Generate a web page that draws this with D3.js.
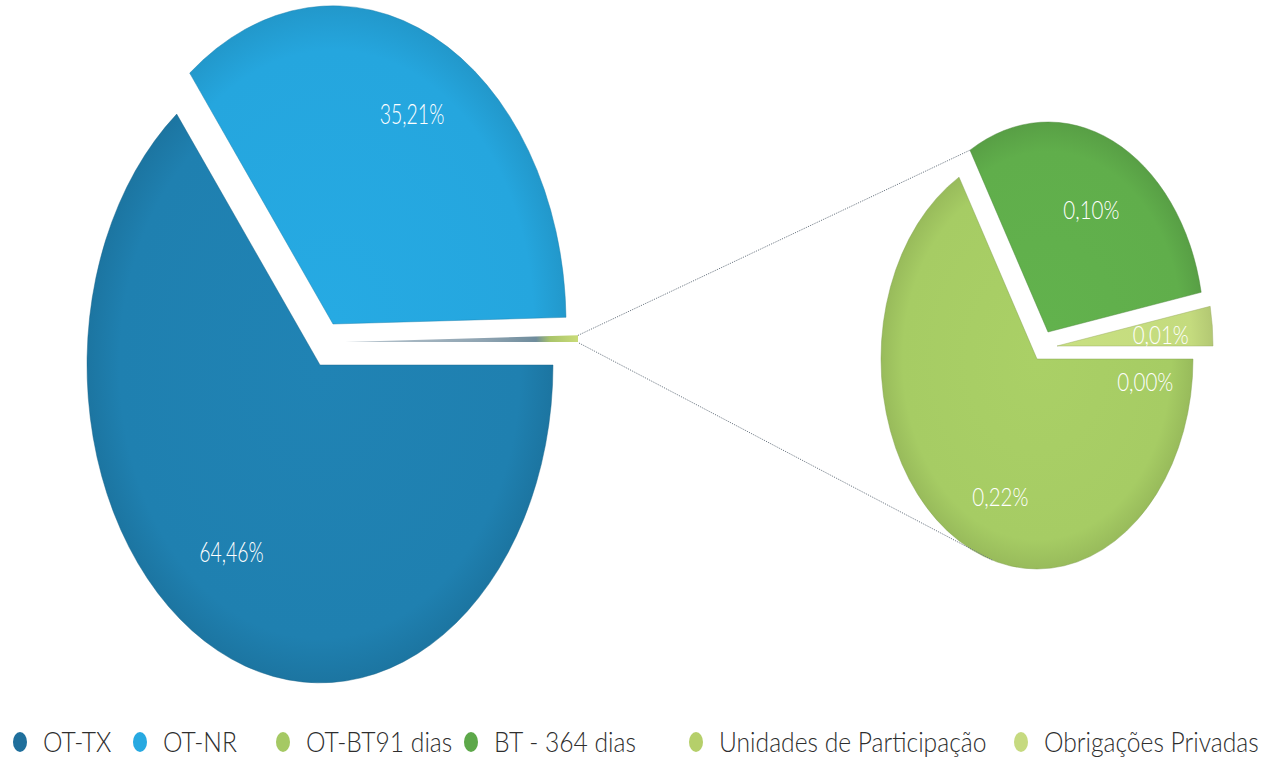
<!DOCTYPE html>
<html>
<head>
<meta charset="utf-8">
<script src="https://cdn.jsdelivr.net/npm/d3@7"></script>
<style>
  html, body { margin: 0; padding: 0; background: #ffffff; }
  svg { display: block; }
  text { font-family: Lato, "Open Sans", "DejaVu Sans", sans-serif; }
</style>
</head>
<body>
<svg id="chart" width="1273" height="769"></svg>
<script>
// ---------------- data ----------------
const categories = ["OT-TX", "OT-NR", "OT-BT91 dias", "BT - 364 dias", "Unidades de Participação", "Obrigações Privadas"];
const values     = [64.46, 35.21, 0.22, 0.10, 0.00, 0.01];
const valueLabels = ["64,46%", "35,21%", "0,22%", "0,10%", "0,00%", "0,01%"];
const colors     = ["#1f80b0", "#25a6de", "#a6cc64", "#60ae4b", "#b7d06c", "#c4db7e"];
const legendColors = ["#1f6f9c", "#27a9e1", "#a5c964", "#5da84a", "#b5cf6a", "#c6da80"];
const primaryIdx   = [0, 1];        // shown in the main pie
const secondaryIdx = [2, 3, 4, 5];  // aggregated into "other" and shown in the second pie

// ---------------- layout (not data) ----------------
const mainPie = { rx: 233, ry: 318 };
const subPie  = { rx: 156, ry: 210 };
// slice centres after explosion
const mainCentres = [[320, 365], [333, 324], [345, 342]];
const subCentres  = { 2: [1037, 359], 3: [1048, 332], 4: [1037, 359], 5: [1057, 346] };
const labelNudge  = { 0: [-17, -12], 1: [9, -8], 2: [18, 11], 3: [-2, 12], 4: [1, 51], 5: [-5, 3] };
const legendX = [20, 140, 283, 471, 696, 1021];
const legendY = 742;

const svg = d3.select("#chart");
const defs = svg.append("defs");

function addGradient(id, color) {
  const c = d3.color(color);
  const g = defs.append("radialGradient").attr("id", id)
    .attr("gradientUnits", "userSpaceOnUse").attr("cx", 0).attr("cy", 0).attr("r", 1);
  g.append("stop").attr("offset", "0%").attr("stop-color", c.brighter(0.06).formatHex());
  g.append("stop").attr("offset", "86%").attr("stop-color", c.formatHex());
  g.append("stop").attr("offset", "100%").attr("stop-color", c.darker(0.25).formatHex());
}
colors.forEach((c, i) => addGradient("g" + i, c));
// the aggregated "other" sliver: greyish along its length, green at its tip
const og = defs.append("linearGradient").attr("id", "gOther")
  .attr("gradientUnits", "userSpaceOnUse").attr("x1", 0).attr("y1", 0).attr("x2", 1).attr("y2", 0);
[["0%", "#b9c6cf"], ["60%", "#8ea3b1"], ["82%", "#6f8c9c"], ["88%", "#a9c46a"], ["100%", "#c9db78"]]
  .forEach(s => og.append("stop").attr("offset", s[0]).attr("stop-color", s[1]));

const unitArc = d3.arc().innerRadius(0).outerRadius(1);
const pieGen = d3.pie().sort(null).value(d => d.value)
  .startAngle(Math.PI / 2).endAngle(Math.PI / 2 + 2 * Math.PI);

// main pie data
const otherValue = d3.sum(secondaryIdx, i => values[i]);
const mainData = primaryIdx.map(i => ({ idx: i, value: values[i] }))
  .concat([{ idx: -1, value: otherValue }]);
const mainArcs = pieGen(mainData);

// secondary pie data
const subData = secondaryIdx.map(i => ({ idx: i, value: values[i] }));
const subArcs = pieGen(subData);

function pointOn(angle, rx, ry, k) {
  // d3 angle: 0 = 12 o'clock, clockwise
  return [Math.sin(angle) * rx * k, -Math.cos(angle) * ry * k];
}

// draw main pie
const mainG = svg.append("g");
mainArcs.forEach((a, k) => {
  const c = mainCentres[k];
  const isOther = a.data.idx < 0;
  const fillId = isOther ? "gOther" : "g" + a.data.idx;
  const p = mainG.append("path")
    .attr("transform", `translate(${c[0]},${c[1]}) scale(${mainPie.rx},${mainPie.ry})`)
    .attr("d", unitArc(a))
    .attr("fill", `url(#${fillId})`);
  if (!isOther) {
    p.attr("stroke", d3.color(colors[a.data.idx]).darker(0.7))
      .attr("stroke-opacity", 0.45)
      .attr("stroke-width", 1)
      .attr("vector-effect", "non-scaling-stroke");
  }
});

// draw secondary pie
const subG = svg.append("g");
subArcs.forEach(a => {
  if (a.data.value <= 0) return;
  const c = subCentres[a.data.idx];
  subG.append("path")
    .attr("transform", `translate(${c[0]},${c[1]}) scale(${subPie.rx},${subPie.ry})`)
    .attr("d", unitArc(a))
    .attr("fill", `url(#g${a.data.idx})`)
    .attr("stroke", d3.color(colors[a.data.idx]).darker(0.7))
    .attr("stroke-opacity", 0.45)
    .attr("stroke-width", 1)
    .attr("vector-effect", "non-scaling-stroke");
});

// connector lines (from the "other" slice to the second pie)
const otherArc = mainArcs[2];
const oc = mainCentres[2];
const pUp = pointOn(otherArc.startAngle, mainPie.rx, mainPie.ry, 1);
const pLo = pointOn(otherArc.endAngle, mainPie.rx, mainPie.ry, 1);
const startUp = [oc[0] + pUp[0], oc[1] + pUp[1]];
const startLo = [oc[0] + pLo[0] + 1, oc[1] + pLo[1] + 1];
// upper: to the outer tip of the BT-364 slice
const bt = subArcs[1];
const c3 = subCentres[3];
const topPt = pointOn(bt.startAngle, subPie.rx, subPie.ry, 1);
const endUp = [c3[0] + topPt[0], c3[1] + topPt[1]];
// lower: to the lower-left edge of the second pie
const c2 = subCentres[2];
const botPt = pointOn(Math.PI + 0.285, subPie.rx, subPie.ry, 1);
const endLo = [c2[0] + botPt[0], c2[1] + botPt[1]];
const conn = svg.append("g").attr("fill", "none").attr("stroke", "#6f7a85")
  .attr("stroke-width", 1).attr("stroke-dasharray", "1.2,1.2");
conn.append("line").attr("x1", startUp[0]).attr("y1", startUp[1]).attr("x2", endUp[0]).attr("y2", endUp[1]);
conn.append("line").attr("x1", startLo[0]).attr("y1", startLo[1]).attr("x2", endLo[0]).attr("y2", endLo[1]);

// value labels
const labG = svg.append("g").attr("fill", "#ffffff").attr("text-anchor", "middle")
  .attr("font-weight", 300);
function addLabel(a, centre, pie, size, sx) {
  const mid = (a.startAngle + a.endAngle) / 2;
  const p = pointOn(mid, pie.rx, pie.ry, 0.7);
  const n = labelNudge[a.data.idx];
  const x = centre[0] + p[0] + n[0], y = centre[1] + p[1] + n[1];
  labG.append("text")
    .attr("transform", `translate(${x},${y}) scale(${sx},1)`)
    .attr("dy", "0.35em")
    .attr("font-size", size)
    .text(valueLabels[a.data.idx]);
}
mainArcs.forEach((a, k) => { if (a.data.idx >= 0) addLabel(a, mainCentres[k], mainPie, 27, 0.72); });
subArcs.forEach(a => addLabel(a, subCentres[a.data.idx], subPie, 25, 0.82));

// legend
const leg = svg.append("g");
categories.forEach((name, i) => {
  const g = leg.append("g").attr("transform", `translate(${legendX[i]},${legendY})`);
  g.append("ellipse").attr("rx", 7).attr("ry", 10).attr("fill", legendColors[i]);
  g.append("text")
    .attr("transform", "translate(23,0) scale(0.88,1)")
    .attr("dy", "0.35em")
    .attr("font-size", 28)
    .attr("font-weight", 300)
    .attr("fill", "#2e2e2e")
    .text(name);
});
</script>
</body>
</html>
